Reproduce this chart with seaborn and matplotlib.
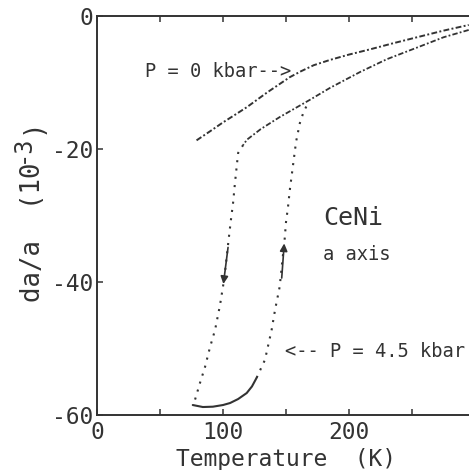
import matplotlib
matplotlib.use("Agg")
import matplotlib.pyplot as plt
import seaborn as sns
import numpy as np

# ---- data ----
# P = 0 kbar
t_p0 = [79, 90, 100, 110, 119, 135, 153, 162, 172, 185, 200, 217, 235, 256, 275, 295]
y_p0 = [-18.7, -17.3, -16.0, -14.8, -13.7, -11.5, -9.2, -8.3, -7.4, -6.6, -5.8, -5.0, -4.1, -3.1, -2.2, -1.35]

# P = 4.5 kbar, cooling: upper branch (295 K down to the kink)
t_c_up = [295, 275, 256, 230, 209, 185, 169, 145, 130, 119, 116]
y_c_up = [-2.1, -3.2, -4.6, -6.5, -8.4, -10.8, -12.6, -15.2, -17.0, -18.6, -19.4]
# cooling: steep drop
t_c_drop = [116, 112, 111, 109.5, 108, 106, 104, 101, 97.6, 93.7, 89.7, 85.7, 81.7, 77.8, 76]
y_c_drop = [-19.4, -20.6, -22.4, -25.1, -28.1, -31.1, -34.4, -39.5, -43.5, -47.2, -49.8, -52.8, -55.2, -57.7, -58.5]
# heating: low-temperature solid part
t_h_low = [76, 84, 92, 100, 105.6, 112, 118.8, 123, 126.7]
y_h_low = [-58.5, -58.8, -58.75, -58.5, -58.2, -57.6, -56.7, -55.7, -54.4]
# heating: steep rise
t_h_rise = [126.7, 133.3, 138.6, 141.3, 145, 147, 149, 150, 151.6, 153, 155.6, 158, 161, 164, 167.5]
y_h_rise = [-54.4, -51.7, -47.2, -44.2, -40.7, -37.0, -33.4, -31.0, -28.7, -26.2, -22.4, -18.9, -16.1, -14.4, -13.1]

# arrows (tail -> head) in data units
arrow_cool = [(104.0, -34.8), (100.3, -40.3)]
arrow_heat = [(146.6, -39.4), (148.6, -34.2)]

x_ticks = [0, 100, 200, 300]
x_tick_labels = ["0", "100", "200", ""]
x_minor = [50, 150, 250]
y_ticks = [0, -20, -40, -60]

# ---- style ----
sns.set_theme(style="ticks")
mono = "DejaVu Sans Mono"
plt.rcParams["font.family"] = [mono, "DejaVu Sans"]

ink = "#333333"
W, H = 469, 470
fig = plt.figure(figsize=(W / 100, H / 100), dpi=100)
fig.patch.set_facecolor("white")
ax = fig.add_axes([97 / W, 1 - 415 / H, 378 / W, 399 / H])
ax.set_facecolor("white")

dashdot = (0, (3.0, 1.2, 1.0, 1.2))
dots = (0, (1.0, 3.0))

sns.lineplot(x=t_p0, y=y_p0, ax=ax, sort=False, estimator=None,
             color=ink, lw=1.4, linestyle=dashdot)
sns.lineplot(x=t_c_up, y=y_c_up, ax=ax, sort=False, estimator=None,
             color=ink, lw=1.3, linestyle=dashdot)
sns.lineplot(x=t_c_drop, y=y_c_drop, ax=ax, sort=False, estimator=None,
             color=ink, lw=1.5, linestyle=dots)
sns.lineplot(x=t_h_low, y=y_h_low, ax=ax, sort=False, estimator=None,
             color=ink, lw=1.5, linestyle="-")
sns.lineplot(x=t_h_rise, y=y_h_rise, ax=ax, sort=False, estimator=None,
             color=ink, lw=1.5, linestyle=dots)

for (tail, head) in (arrow_cool, arrow_heat):
    ax.annotate("", xy=head, xytext=tail,
                arrowprops=dict(arrowstyle="-|>", color=ink, lw=1.2,
                                mutation_scale=11, shrinkA=0, shrinkB=0))

# ---- axes ----
ax.set_xlim(0, 300)
ax.set_ylim(-60, 0)
ax.set_xticks(x_ticks)
ax.set_xticklabels(x_tick_labels)
ax.set_xticks(x_minor, minor=True)
ax.set_yticks(y_ticks)
ax.set_yticklabels([str(v) for v in y_ticks])
ax.tick_params(axis="both", which="both", direction="in", length=4, width=1.1,
               color=ink, labelsize=16.5, labelcolor=ink, top=True, right=True)
ax.tick_params(axis="y", pad=3)
ax.tick_params(axis="x", pad=4)
for s in ax.spines.values():
    s.set_color(ink)
    s.set_linewidth(1.4)

ax.set_xlabel("Temperature  (K)", fontsize=16.5, color=ink, labelpad=3)

# y label built from pieces so the exponent stays full size, as in the scan
ylab_fs = 18.5
char_px = ylab_fs * 100 / 72 * 0.602
sup_fs = 17
y0 = 302
fig.text(33 / W, 1 - y0 / H, "da/a  (10", rotation=90, fontsize=ylab_fs,
         color=ink, ha="center", va="bottom")
y1 = y0 - 9 * char_px
fig.text(22 / W, 1 - y1 / H, "-3", rotation=90, fontsize=sup_fs,
         color=ink, ha="center", va="bottom")
y2 = y1 - 2 * sup_fs * 100 / 72 * 0.602
fig.text(33 / W, 1 - y2 / H, ")", rotation=90, fontsize=ylab_fs,
         color=ink, ha="center", va="bottom")

# ---- annotations ----
ax.text(38.1, -8.4, "P = 0 kbar-->", fontsize=13.5, color=ink, va="center", ha="left")
ax.text(179.4, -30.4, "CeNi", fontsize=18, color=ink, va="center", ha="left")
ax.text(179.4, -35.9, "a axis", fontsize=13.5, color=ink, va="center", ha="left")
ax.text(149.2, -50.5, "<-- P = 4.5 kbar", fontsize=13.5, color=ink, va="center", ha="left")

fig.savefig("out.png", dpi=100)
